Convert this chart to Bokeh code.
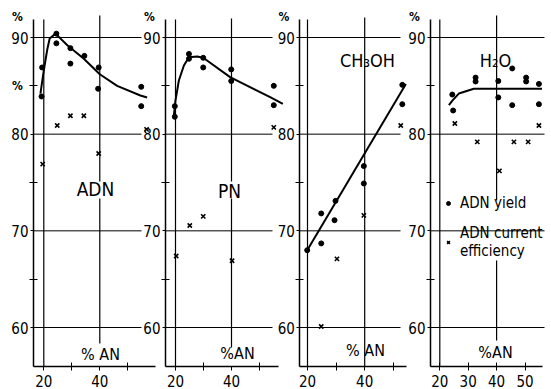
from bokeh.plotting import figure
from bokeh.models import Range1d, LinearAxis, FixedTicker, Legend, LegendItem
from bokeh.embed import file_html
from bokeh.resources import INLINE
from bokeh.core.properties import value

# ---------------- data ----------------
panel_titles = ["ADN", "PN", "CH\u2083OH", "H\u2082O"]
x_titles = ["% AN", "%AN", "% AN", "%AN"]
y_ticks = [60, 70, 80, 90]
y_minor = [65, 75, 85]
x_ticks = [20, 40]
x_minor = [30, 50]
x_ticks_h2o = [20, 30, 40, 50]
legend_labels = ["ADN yield", "ADN current\nefficiency"]

adn_yield_x = [19.2, 19.4, 24.5, 24.5, 29.5, 29.5, 34.5, 39.6, 39.4, 54.8, 54.8]
adn_yield_y = [83.9, 86.9, 89.4, 90.4, 88.9, 87.3, 88.1, 86.9, 84.7, 84.9, 82.9]
adn_eff_x = [19.6, 24.8, 29.5, 34.3, 39.6, 56.7]
adn_eff_y = [76.9, 80.9, 81.9, 81.9, 78.0, 80.5]
adn_fit_x = [18.8, 20.0, 21.2, 22.1, 24.2, 28.4, 34.3, 40.0, 46.2, 54.5, 56.9]
adn_fit_y = [84.2, 86.6, 88.7, 89.9, 90.4, 89.2, 87.8, 86.2, 85.0, 84.0, 83.8]

pn_yield_x = [19.75, 19.75, 24.8, 24.8, 29.9, 29.9, 39.9, 39.9, 55.1, 55.1]
pn_yield_y = [81.8, 82.9, 88.3, 87.8, 87.9, 86.9, 86.7, 85.5, 85.0, 83.0]
pn_eff_x = [20.25, 25.1, 29.9, 40.2, 55.1]
pn_eff_y = [67.4, 70.55, 71.5, 66.9, 80.7]
pn_fit_x = [19.4, 20.0, 21.2, 23.0, 24.8, 27.75, 29.9, 39.5, 53.8, 58.35]
pn_fit_y = [81.9, 83.5, 85.55, 87.1, 87.96, 88.03, 87.9, 85.9, 83.83, 83.14]

meoh_yield_x = [19.9, 24.8, 24.8, 29.45, 29.8, 39.7, 39.7, 53.15, 53.15]
meoh_yield_y = [68.0, 71.8, 68.7, 71.1, 73.1, 76.7, 74.9, 85.1, 83.1]
meoh_eff_x = [24.8, 30.3, 39.7, 52.6]
meoh_eff_y = [60.1, 67.1, 71.6, 80.9]
meoh_fit_x = [19.9, 54.4]
meoh_fit_y = [68.0, 85.2]

h2o_yield_x = [24.4, 24.7, 32.6, 32.6, 40.6, 40.6, 45.5, 45.5, 50.4, 50.4, 54.9, 54.9]
h2o_yield_y = [84.1, 82.45, 85.85, 85.45, 85.5, 83.8, 86.8, 83.0, 85.85, 85.45, 85.2, 83.1]
h2o_eff_x = [25.3, 33.2, 41.0, 46.1, 51.1, 54.9]
h2o_eff_y = [81.1, 79.2, 76.2, 79.2, 79.2, 80.9]
h2o_fit_x = [23.2, 24.5, 26.7, 32.0, 39.6, 56.0]
h2o_fit_y = [83.0, 83.5, 84.2, 84.7, 84.7, 84.7]

series = [
    (adn_yield_x, adn_yield_y, adn_eff_x, adn_eff_y, adn_fit_x, adn_fit_y),
    (pn_yield_x, pn_yield_y, pn_eff_x, pn_eff_y, pn_fit_x, pn_fit_y),
    (meoh_yield_x, meoh_yield_y, meoh_eff_x, meoh_eff_y, meoh_fit_x, meoh_fit_y),
    (h2o_yield_x, h2o_yield_y, h2o_eff_x, h2o_eff_y, h2o_fit_x, h2o_fit_y),
]

# ---------------- layout (pixels of the 551x389 canvas) ----------------
W, H = 551, 389
FONT = "DejaVu Sans Condensed"
PX_Y = 9.667                    # pixels per % on the y scale
Y_TOP = 90 + 37 / PX_Y          # value at canvas top
Y_BOT = Y_TOP - H / PX_Y

px_per = [2.8, 2.8, 2.86, 2.84]         # pixels per % AN
x20_px = [43.3, 175.0, 307.0, 439.3]    # pixel of x = 20 in each panel
axis_px = [33.0, 165.0, 299.3, 430.0]   # pixel of each panel's y axis
grid_end_px = [141, 272, 400, 544]
xaxis_end_px = [155, 278, 406, 542]
v40_pieces = [[(15, 181), (198, 343)], [(18, 181), (198, 347)], [(17, 366)], [(15, 200), (260, 340)]]
title_px = [(95, 188), (229, 190), (367, 60), (495, 60)]
title_size = ["19px", "19px", "18px", "18px"]
xlab_px = [(100, 354), (237, 353), (365, 350), (495, 352)]
names = ["default", "p2", "p3", "p4"]


def xd(k, px):
    return 20 + (px - x20_px[k]) / px_per[k]


def yd(py):
    return Y_TOP - py / PX_Y


ranges = [Range1d(xd(k, 0), xd(k, W)) for k in range(4)]

p = figure(width=W, height=H, output_backend="svg", toolbar_location=None,
           x_range=ranges[0], y_range=Range1d(Y_BOT, Y_TOP),
           x_axis_location=None, y_axis_location=None, min_border=0)
p.extra_x_ranges = {names[k]: ranges[k] for k in range(1, 4)}
p.outline_line_color = None
p.grid.visible = False
p.background_fill_color = "white"
p.border_fill_color = "white"

y_axis_bot = yd(366)
y_axis_top = yd(19)

dot_r = []
cross_r = []
for k in range(4):
    rn = names[k]
    ax_x = xd(k, axis_px[k])
    # horizontal gridlines
    gx1 = xd(k, grid_end_px[k])
    p.segment(x0=[ax_x] * len(y_ticks), x1=[gx1] * len(y_ticks), y0=y_ticks, y1=y_ticks,
              line_color="black", line_width=1, x_range_name=rn)
    # vertical gridline at 20
    p.segment(x0=[x_ticks[0]], x1=[x_ticks[0]], y0=[y_axis_bot], y1=[yd(19)],
              line_color="black", line_width=1.2, x_range_name=rn)
    # vertical gridline at 40 (interrupted by text)
    for (a, b) in v40_pieces[k]:
        p.segment(x0=[x_ticks[1]], x1=[x_ticks[1]], y0=[yd(a)], y1=[yd(b)],
                  line_color="black", line_width=1.2, x_range_name=rn)

    # y axis
    yax = LinearAxis(fixed_location=ax_x, x_range_name=rn, bounds=(y_axis_bot, y_axis_top),
                     ticker=FixedTicker(ticks=y_ticks, minor_ticks=y_minor))
    yax.axis_line_width = 1.5
    yax.major_tick_in = 0
    yax.major_tick_out = 3
    yax.minor_tick_in = 4
    yax.minor_tick_out = 4
    yax.major_label_standoff = 1
    yax.major_label_text_font = FONT
    yax.major_label_text_font_size = "15px"
    yax.major_label_text_color = "black"
    p.add_layout(yax, "left")

    # x axis
    xt = x_ticks_h2o if k == 3 else x_ticks
    xm = [] if k == 3 else x_minor
    xax = LinearAxis(fixed_location=y_axis_bot, x_range_name=rn,
                     bounds=(ax_x, xd(k, xaxis_end_px[k])),
                     ticker=FixedTicker(ticks=xt, minor_ticks=xm))
    xax.axis_line_width = 1.5
    xax.major_tick_in = 4 if k == 3 else 0
    xax.major_tick_out = 4
    xax.minor_tick_in = 4
    xax.minor_tick_out = 4
    xax.major_label_standoff = 4
    xax.major_label_text_font = FONT
    xax.major_label_text_font_size = "15px"
    xax.major_label_text_color = "black"
    p.add_layout(xax, "below")

    # '%' unit labels
    pct_y = [yd(16.5)] + ([85] if k == 0 else [])
    p.text(x=[xd(k, axis_px[k] - 16)] * len(pct_y), y=pct_y, text=["%"] * len(pct_y),
           x_range_name=rn, text_font=value(FONT), text_font_size="12px", text_font_style="bold",
           text_align="center", text_baseline="middle", text_color="black")

    # titles
    tx, ty = title_px[k]
    p.text(x=[xd(k, tx)], y=[yd(ty)], text=[panel_titles[k]], x_range_name=rn,
           text_font=value(FONT), text_font_size=title_size[k],
           text_align="center", text_baseline="middle", text_color="black")
    lx, ly = xlab_px[k]
    p.text(x=[xd(k, lx)], y=[yd(ly)], text=[x_titles[k]], x_range_name=rn,
           text_font=value(FONT), text_font_size="16px",
           text_align="center", text_baseline="middle", text_color="black")

    yx, yy, ex, ey, fx, fy = series[k]
    p.line(fx, fy, line_color="black", line_width=2, x_range_name=rn)
    dr = p.scatter(yx, yy, marker="circle", size=5, color="black", x_range_name=rn)
    cr = p.scatter(ex, ey, marker="x", size=6, line_width=1.6, color="black", x_range_name=rn)
    dot_r.append(dr)
    cross_r.append(cr)

legend = Legend(items=[LegendItem(label=legend_labels[0], renderers=[dot_r[3]]),
                       LegendItem(label=legend_labels[1], renderers=[cross_r[3]])],
                location=(443, 129), orientation="vertical")
legend.background_fill_alpha = 0
legend.border_line_alpha = 0
legend.padding = 0
legend.margin = 0
legend.spacing = 12
legend.glyph_width = 10
legend.glyph_height = 14
legend.label_standoff = 7
legend.label_height = 16
legend.label_text_font = FONT
legend.label_text_font_size = "15px"
legend.label_text_color = "black"
legend.label_text_line_height = 1.1
p.add_layout(legend, "center")

open("out.html", "w").write(file_html(p, INLINE))
